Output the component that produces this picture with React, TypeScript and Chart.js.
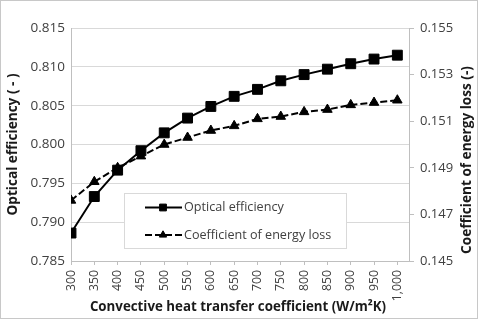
import React, { useEffect, useRef } from 'react';
import { Chart, registerables } from 'chart.js';
import { drawPoint } from 'chart.js/helpers';

Chart.register(...registerables);

const heatTransferCoeff = [300, 350, 400, 450, 500, 550, 600, 650, 700, 750, 800, 850, 900, 950, 1000];
const opticalEfficiency = [0.7886, 0.7933, 0.7967, 0.7992, 0.8015, 0.8034, 0.8049, 0.8062, 0.8071, 0.8082, 0.8090, 0.8097, 0.8104, 0.8110, 0.8115];
const energyLossCoeff = [0.1476, 0.1484, 0.1490, 0.1495, 0.1500, 0.1503, 0.1506, 0.1508, 0.1511, 0.1512, 0.1514, 0.1515, 0.1517, 0.1518, 0.1519];
const leftTicks = [0.785, 0.790, 0.795, 0.800, 0.805, 0.810, 0.815];
const rightTicks = [0.145, 0.147, 0.149, 0.151, 0.153, 0.155];
const seriesNames = ['Optical efficiency', 'Coefficient of energy loss'];
const xTitle = 'Convective heat transfer coefficient (W/m²K)';
const leftTitle = 'Optical efficiency ( - )';
const rightTitle = 'Coefficient of energy loss (-)';

const FONT = '"Open Sans", "Noto Sans", sans-serif';
const TICK_COLOR = '#404040';
const TITLE_COLOR = '#1a1a1a';

const decorPlugin = {
  id: 'decor',
  afterDatasetsDraw(chart: any) {
    const ctx = chart.ctx;
    // legend box
    const lx = 124, ly = 193, lw = 222, lh = 55;
    ctx.save();
    ctx.fillStyle = '#ffffff';
    ctx.fillRect(lx, ly, lw, lh);
    ctx.strokeStyle = '#d9d9d9';
    ctx.lineWidth = 1;
    ctx.strokeRect(lx + 0.5, ly + 0.5, lw, lh);
    const rows = [207.5, 235];
    chart.data.datasets.forEach((ds: any, i: number) => {
      const y = rows[i];
      ctx.save();
      ctx.strokeStyle = ds.borderColor;
      ctx.lineWidth = ds.borderWidth;
      ctx.setLineDash(ds.borderDash || []);
      ctx.beginPath();
      ctx.moveTo(145, y);
      ctx.lineTo(182, y);
      ctx.stroke();
      ctx.setLineDash([]);
      ctx.fillStyle = ds.pointBackgroundColor;
      ctx.strokeStyle = ds.pointBorderColor;
      ctx.lineWidth = 1;
      drawPoint(ctx, { pointStyle: ds.pointStyle, radius: i === 0 ? 4.8 : 4.2, rotation: 0, borderWidth: 1 }, 163, y);
      ctx.restore();
      ctx.fillStyle = TICK_COLOR;
      ctx.font = `12.6px ${FONT}`;
      ctx.textAlign = 'left';
      ctx.textBaseline = 'middle';
      ctx.fillText(ds.label, 184, y);
    });
    ctx.restore();
  },
  afterDraw(chart: any) {
    const ctx = chart.ctx;
    const ca = chart.chartArea;
    ctx.save();
    ctx.fillStyle = TITLE_COLOR;
    ctx.font = `bold 13.3px ${FONT}`;
    ctx.textAlign = 'center';
    ctx.textBaseline = 'middle';
    ctx.fillText(xTitle, 238, 307);
    ctx.font = `bold 13.6px ${FONT}`;
    ctx.save();
    ctx.translate(13, (ca.top + ca.bottom) / 2);
    ctx.rotate(-Math.PI / 2);
    ctx.fillText(leftTitle, 0, 0);
    ctx.restore();
    ctx.save();
    ctx.translate(467, 160);
    ctx.rotate(-Math.PI / 2);
    ctx.fillText(rightTitle, 0, 0);
    ctx.restore();
    ctx.strokeStyle = '#c8c8c8';
    ctx.lineWidth = 1;
    ctx.strokeRect(0.5, 0.5, 477, 318);
    ctx.restore();
  },
};

export default function App() {
  const ref = useRef<HTMLCanvasElement | null>(null);
  useEffect(() => {
    document.body.style.margin = '0';
    const canvas = ref.current;
    if (!canvas) return;
    const chart = new Chart(canvas, {
      type: 'line',
      data: {
        datasets: [
          {
            label: seriesNames[0],
            data: heatTransferCoeff.map((x, i) => ({ x, y: opticalEfficiency[i] })),
            yAxisID: 'yL',
            borderColor: '#000000',
            borderWidth: 2,
            pointStyle: 'rect',
            pointRadius: 7,
            pointBackgroundColor: '#000000',
            pointBorderColor: '#000000',
            pointBorderWidth: 1,
            tension: 0,
          },
          {
            label: seriesNames[1],
            data: heatTransferCoeff.map((x, i) => ({ x, y: energyLossCoeff[i] })),
            yAxisID: 'yR',
            borderColor: '#000000',
            borderWidth: 2,
            borderDash: [7, 3],
            pointStyle: 'triangle',
            pointRadius: 5.5,
            pointBackgroundColor: '#000000',
            pointBorderColor: '#000000',
            pointBorderWidth: 1,
            tension: 0,
          },
        ],
      },
      options: {
        responsive: false,
        animation: false,
        devicePixelRatio: 1,
        layout: { padding: { top: 28, left: 0, right: 0, bottom: 0 } },
        plugins: { legend: { display: false }, tooltip: { enabled: false } },
        scales: {
          x: {
            type: 'linear',
            position: 'bottom',
            min: 300,
            max: 1025,
            afterBuildTicks: (s: any) => { s.ticks = heatTransferCoeff.map((v) => ({ value: v })); },
            afterFit: (s: any) => { s.height = 60; },
            ticks: {
              autoSkip: false,
              minRotation: 90,
              maxRotation: 90,
              padding: 5,
              color: TICK_COLOR,
              font: { family: FONT, size: 12.3 },
              callback: (v: any) => Number(v).toLocaleString('en-US'),
            },
            grid: { drawOnChartArea: false, drawTicks: true, tickLength: 4, color: '#bfbfbf' },
            border: { color: '#bfbfbf' },
          },
          yL: {
            type: 'linear',
            position: 'left',
            min: 0.785,
            max: 0.815,
            afterBuildTicks: (s: any) => { s.ticks = leftTicks.map((v) => ({ value: v })); },
            afterFit: (s: any) => { s.width = 71; },
            ticks: {
              padding: 6,
              color: TICK_COLOR,
              font: { family: FONT, size: 13.5 },
              callback: (v: any) => Number(v).toFixed(3),
            },
            grid: { color: '#d9d9d9', drawTicks: false },
            border: { color: '#bfbfbf' },
          },
          yR: {
            type: 'linear',
            position: 'right',
            min: 0.145,
            max: 0.155,
            afterBuildTicks: (s: any) => { s.ticks = rightTicks.map((v) => ({ value: v })); },
            afterFit: (s: any) => { s.width = 71; },
            ticks: {
              padding: 6,
              color: TICK_COLOR,
              font: { family: FONT, size: 13 },
              callback: (v: any) => Number(v).toFixed(3),
            },
            grid: { drawOnChartArea: false, drawTicks: true, tickLength: 5, color: '#bfbfbf' },
            border: { color: '#bfbfbf' },
          },
        },
      },
      plugins: [decorPlugin],
    });
    return () => chart.destroy();
  }, []);
  return (
    <div style={{ position: 'fixed', left: 0, top: 0, width: 480, height: 321, background: '#ffffff' }}>
      <canvas ref={ref} width={480} height={321} style={{ display: 'block', width: 480, height: 321 }} />
    </div>
  );
}
